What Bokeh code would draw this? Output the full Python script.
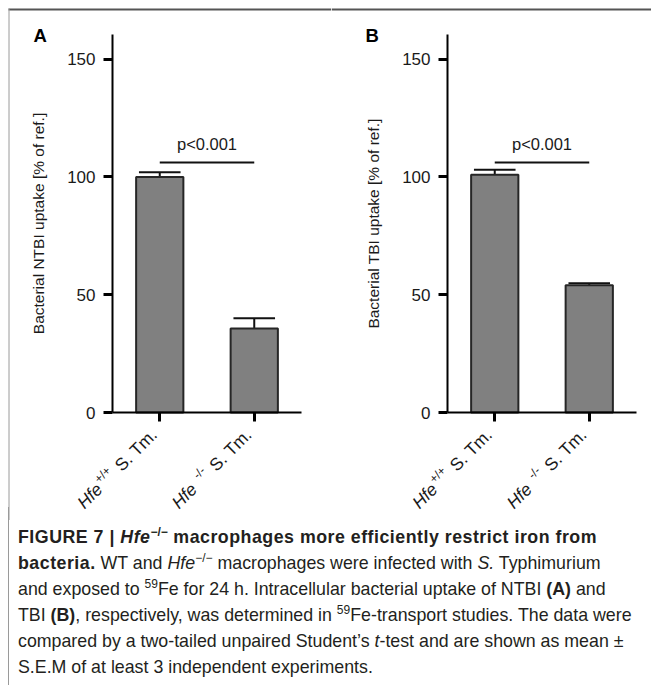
import numpy as np
from bokeh.plotting import figure
from bokeh.models import Range1d, FixedTicker, Div
from bokeh.layouts import row, column
from bokeh.core.properties import value
from bokeh.embed import file_html
from bokeh.resources import INLINE

# ---------------- data ----------------
groups = ["Hfe+/+ S. Tm.", "Hfe-/- S. Tm."]
gene = ["Hfe", "Hfe"]
genotype = ["+/+", "-/-"]
strain = ["S. Tm.", "S. Tm."]
ntbi_mean = [100.0, 35.7]
ntbi_sem = [2.0, 4.3]
tbi_mean = [101.0, 54.0]
tbi_sem = [2.1, 0.9]
y_ticks = [0, 50, 100, 150]
y_max = 160.5
p_text = "p<0.001"
p_level = 106.2
panel_letters = ["A", "B"]
y_titles = ["Bacterial NTBI uptake [% of ref.]", "Bacterial TBI uptake [% of ref.]"]

SUP = '<sup style="font-size:12px;line-height:0;vertical-align:7px;letter-spacing:0">%s</sup>'
caption_lines = [
    '<b style="letter-spacing:0.5px">FIGURE 7 | <i>Hfe</i>' + SUP % '&minus;/&minus;'
    + ' macrophages more efficiently restrict iron from</b>',
    '<b style="letter-spacing:0.5px">bacteria.</b> WT and <i>Hfe</i>' + SUP % '&minus;/&minus;'
    + ' macrophages were infected with <i>S.</i> Typhimurium',
    'and exposed to ' + SUP % '59' + 'Fe for 24 h. Intracellular bacterial uptake of NTBI <b>(A)</b> and',
    'TBI <b>(B)</b>, respectively, was determined in ' + SUP % '59' + 'Fe-transport studies. The data were',
    'compared by a two-tailed unpaired Student\u2019s <i>t</i>-test and are shown as mean \u00b1',
    'S.E.M of at least 3 independent experiments.',
]

FONT = "Liberation Sans"
TXT = "#1a1a1a"
C = np.cos(np.pi / 4)

PAGE_PAD = 8               # figure frame starts 8 px in from the page corner
FIG_H = 520
CAP_H = 165
PX_PER_X = 94.5            # pixels per category slot
PX_PER_Y = 378.0 / y_max   # pixels per y unit
Y0_PX = 412                # y=0 position from the top of each figure
YTOP_PX = 34               # top of the y axis from the top of each figure


def make_panel(means, sems, letter, ytitle, width, axis_px, letter_dx, is_first):
    n = len(groups)
    xs = np.arange(n) + 0.5
    x0, x1 = -axis_px / PX_PER_X, (width - axis_px) / PX_PER_X
    y0, y1 = -(FIG_H - Y0_PX) / PX_PER_Y, y_max + YTOP_PX / PX_PER_Y
    p = figure(width=width, height=FIG_H, x_range=Range1d(x0, x1), y_range=Range1d(y0, y1),
               title=None, output_backend="svg", toolbar_location=None,
               min_border=0, min_border_left=0, min_border_right=0,
               min_border_top=0, min_border_bottom=0)
    p.grid.visible = False
    p.outline_line_color = None
    p.background_fill_color = "white"
    p.border_fill_color = "white"

    # figure frame rules: dark rule on top, light rule on the left
    rule_left = x0 + (PAGE_PAD / PX_PER_X if is_first else 0)
    p.segment(x0=[rule_left], y0=[y1 - (PAGE_PAD + 1) / PX_PER_Y], x1=[x1],
              y1=[y1 - (PAGE_PAD + 1) / PX_PER_Y], line_color="#555555", line_width=2)
    if is_first:
        lx = x0 + (PAGE_PAD + 0.5) / PX_PER_X
        p.segment(x0=[lx], y0=[y0], x1=[lx], y1=[y1 - PAGE_PAD / PX_PER_Y],
                  line_color="#9a9a9a", line_width=1)

    means = np.array(means)
    tops = means + np.array(sems)
    p.segment(x0=xs, y0=means, x1=xs, y1=tops, line_color="#111111", line_width=2)
    p.segment(x0=xs - 0.22, y0=tops, x1=xs + 0.22, y1=tops, line_color="#111111", line_width=2)
    p.vbar(x=xs, top=means, width=0.5, fill_color="#808080", line_color="#262626", line_width=2)

    # significance bracket
    p.segment(x0=[xs[0]], y0=[p_level], x1=[xs[-1]], y1=[p_level], line_color="#111111", line_width=2)
    p.text(x=[xs.mean()], y=[p_level], text=[p_text], y_offset=-18, text_align="center",
           text_baseline="alphabetic", text_font=value(FONT), text_font_size="16.5px", text_color=TXT)

    # axes drawn at the data origin
    for ax in (p.xaxis, p.yaxis):
        ax.fixed_location = 0
        ax.axis_line_width = 2
        ax.axis_line_color = "black"
        ax.major_tick_line_width = 3
        ax.major_tick_line_color = "black"
        ax.major_tick_in = 0
        ax.major_tick_out = 9
        ax.minor_tick_line_color = None
        ax.major_label_text_font = FONT
        ax.major_label_text_color = TXT
    p.xaxis.bounds = (0, n)
    p.xaxis.ticker = FixedTicker(ticks=list(xs))
    p.xaxis.major_label_text_color = None
    p.yaxis.bounds = (0, y_max)
    p.yaxis.ticker = FixedTicker(ticks=y_ticks)
    p.yaxis.major_label_text_font_size = "17px"
    p.yaxis.major_label_standoff = 8
    p.yaxis.axis_label = ytitle
    p.yaxis.axis_label_text_font = FONT
    p.yaxis.axis_label_text_font_style = "normal"
    p.yaxis.axis_label_text_font_size = "15.5px"
    p.yaxis.axis_label_text_color = TXT
    p.yaxis.axis_label_standoff = 17

    # x tick labels: "Hfe" (italic) + superscript genotype + strain, rotated 45 deg
    pieces = [
        (strain, "normal", "17.5px", 0.0, 0.0),
        (genotype, "normal", "12px", 58.5, 6.0),
        (gene, "italic", "17.5px", 77.5, 0.0),
    ]
    for texts, style, size, d, r in pieces:
        ox = -5.5 - d * C - r * C
        oy_down = 19 + d * C - r * C
        p.text(x=xs, y=np.zeros(n), text=texts, angle=np.pi / 4, x_offset=ox, y_offset=oy_down,
               text_align="right", text_baseline="alphabetic", text_font=value(FONT),
               text_font_style=style, text_font_size=size, text_color=TXT)

    # panel letter
    p.text(x=[0], y=[y_max], text=[letter], x_offset=letter_dx, y_offset=1,
           text_align="left", text_baseline="alphabetic", text_font=value(FONT),
           text_font_style="bold", text_font_size="18.5px", text_color="black")
    return p


pa = make_panel(ntbi_mean, ntbi_sem, panel_letters[0], y_titles[0], 331, 112, -79, True)
pb = make_panel(tbi_mean, tbi_sem, panel_letters[1], y_titles[1], 320, 116, -82, False)

cap = Div(text='<div style="font-family:\'Liberation Sans\',Arial,sans-serif;font-size:17.8px;'
               'line-height:26px;color:#231f20;white-space:nowrap;box-sizing:border-box;'
               'border-left:1px solid #9a9a9a;margin-left:3px;margin-top:-18px;'
               'padding-top:17px;padding-left:9px;height:%dpx">' % (CAP_H + 13)
               + '<br>'.join(caption_lines) + '</div>', width=651, height=CAP_H)

layout = column(row(pa, pb), cap)

open("out.html", "w").write(file_html(layout, INLINE))
